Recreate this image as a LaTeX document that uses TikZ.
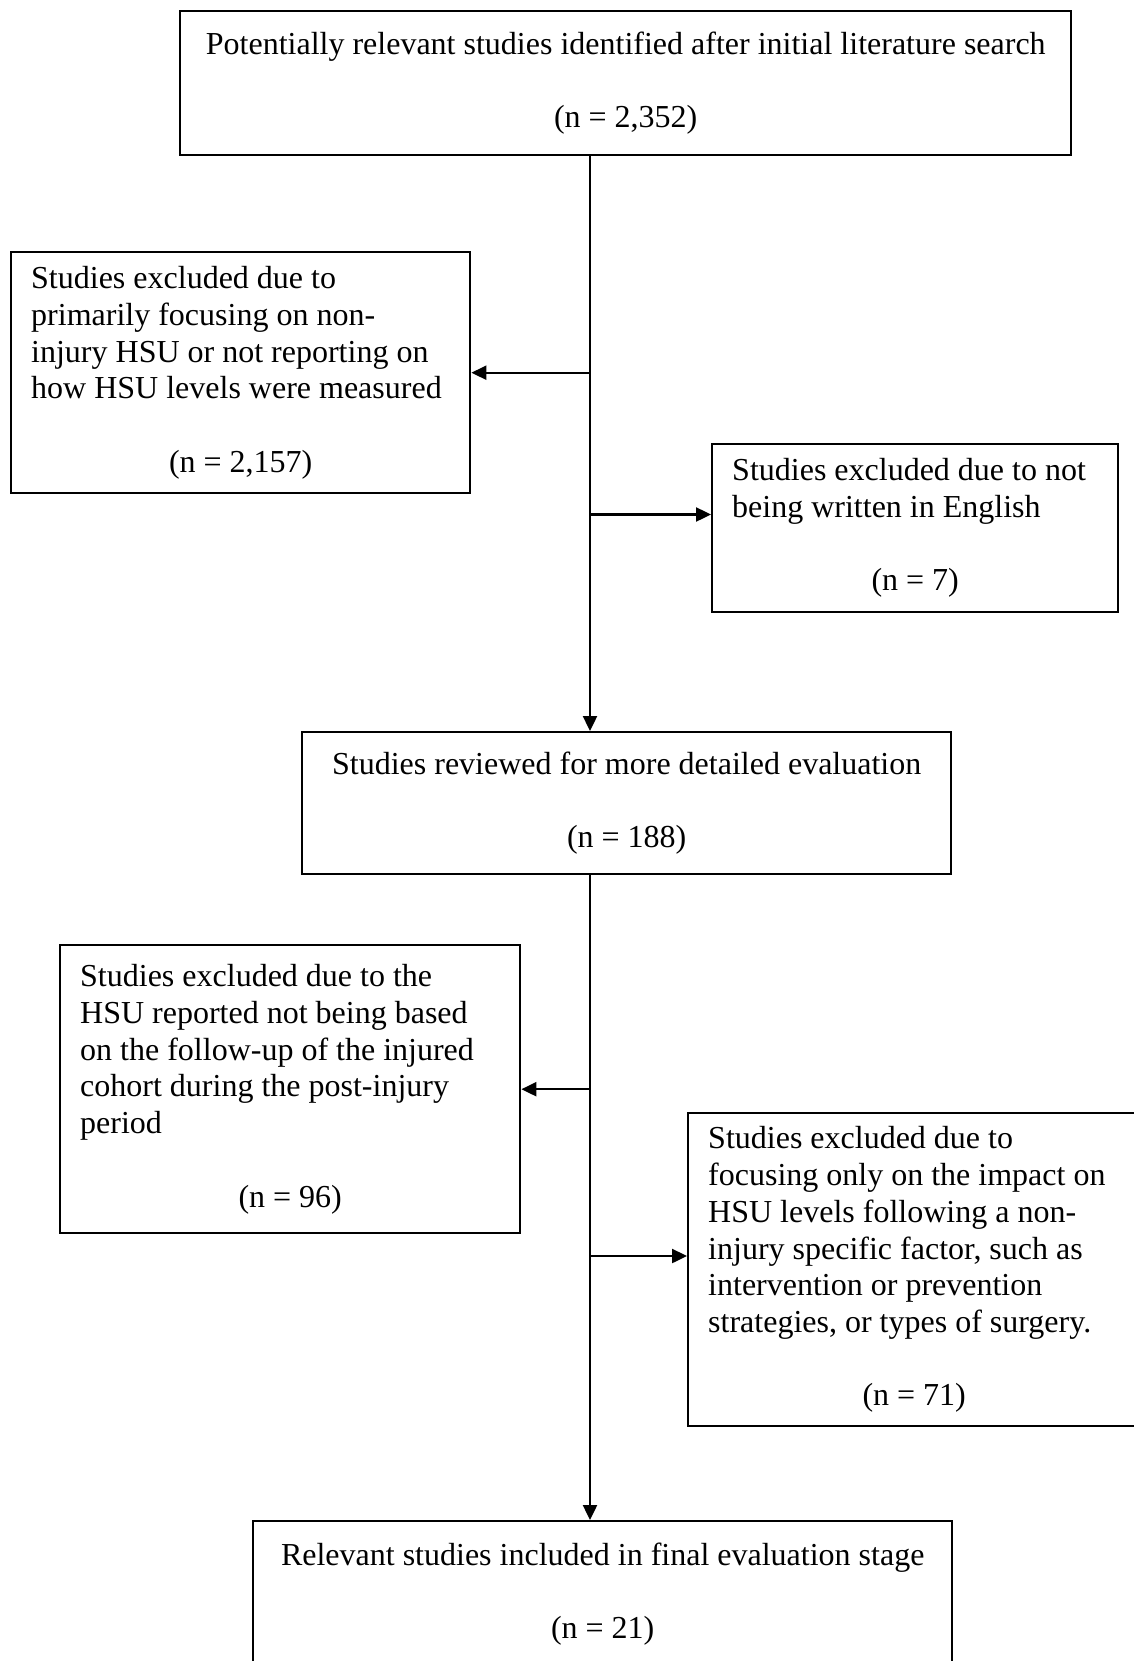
\documentclass[tikz,border=0pt]{standalone}
\usepackage{fontspec}
\setmainfont{Liberation Serif}
\usetikzlibrary{arrows.meta}
\newcommand{\nline}[1]{\makebox[\linewidth][c]{#1}}
\begin{document}
\begin{tikzpicture}[x=1pt,y=-1pt,
  box/.style={draw, line width=2.4pt, rectangle, anchor=north west, inner xsep=20pt, inner ysep=4pt,
    font=\fontsize{32}{36.7}\selectfont},
  cbox/.style={box, align=center},
  lbox/.style={box, align=flush left},
  conn/.style={line width=2.4pt},
  arr/.style={conn, -{Triangle[length=15pt,width=14pt]}}]
\useasboundingbox[fill=white] (0,0) rectangle (1134,1661);

\node[cbox, minimum width=891pt, minimum height=144pt] (top) at (179,10)
  {Potentially relevant studies identified after initial literature search\\[36.7pt](n = 2,352)};

\node[lbox, text width=419pt, minimum height=241pt] (ex1) at (10,251)
  {Studies excluded due to\\
   primarily focusing on non-\\
   injury HSU or not reporting on\\
   how HSU levels were measured\\[36.7pt]
   \nline{(n = 2,157)}};

\node[lbox, text width=366pt, minimum height=168pt] (ex2) at (711,443)
  {Studies excluded due to not\\
   being written in English\\[36.7pt]
   \nline{(n = 7)}};

\node[cbox, minimum width=649pt, minimum height=142pt] (mid) at (301,731)
  {Studies reviewed for more detailed evaluation\\[36.7pt](n = 188)};

\node[lbox, text width=420pt, minimum height=288pt] (ex3) at (59,944)
  {Studies excluded due to the\\
   HSU reported not being based\\
   on the follow-up of the injured\\
   cohort during the post-injury\\
   period\\[36.7pt]
   \nline{(n = 96)}};

\node[lbox, text width=412pt, minimum height=313pt] (ex4) at (687,1112)
  {Studies excluded due to\\
   focusing only on the impact on\\
   HSU levels following a non-\\
   injury specific factor, such as\\
   intervention or prevention\\
   strategies, or types of surgery.\\[36.7pt]
   \nline{(n = 71)}};

\node[cbox, minimum width=699pt, minimum height=146pt] (fin) at (252,1520)
  {Relevant studies included in final evaluation stage\\[36.7pt](n = 21)};

\coordinate (sp) at (590,0);
\coordinate (r1) at (0,514.5);
\coordinate (r2) at (0,1256);

\draw[arr] (top.south -| sp) -- (mid.north -| sp);
\draw[arr] (ex1.east -| sp) -- (ex1.east);
\draw[arr] (sp |- r1) -- (ex2.west |- r1);
\draw[arr] (mid.south -| sp) -- (fin.north -| sp);
\draw[arr] (ex3.east -| sp) -- (ex3.east);
\draw[arr] (sp |- r2) -- (ex4.west |- r2);
\end{tikzpicture}
\end{document}
